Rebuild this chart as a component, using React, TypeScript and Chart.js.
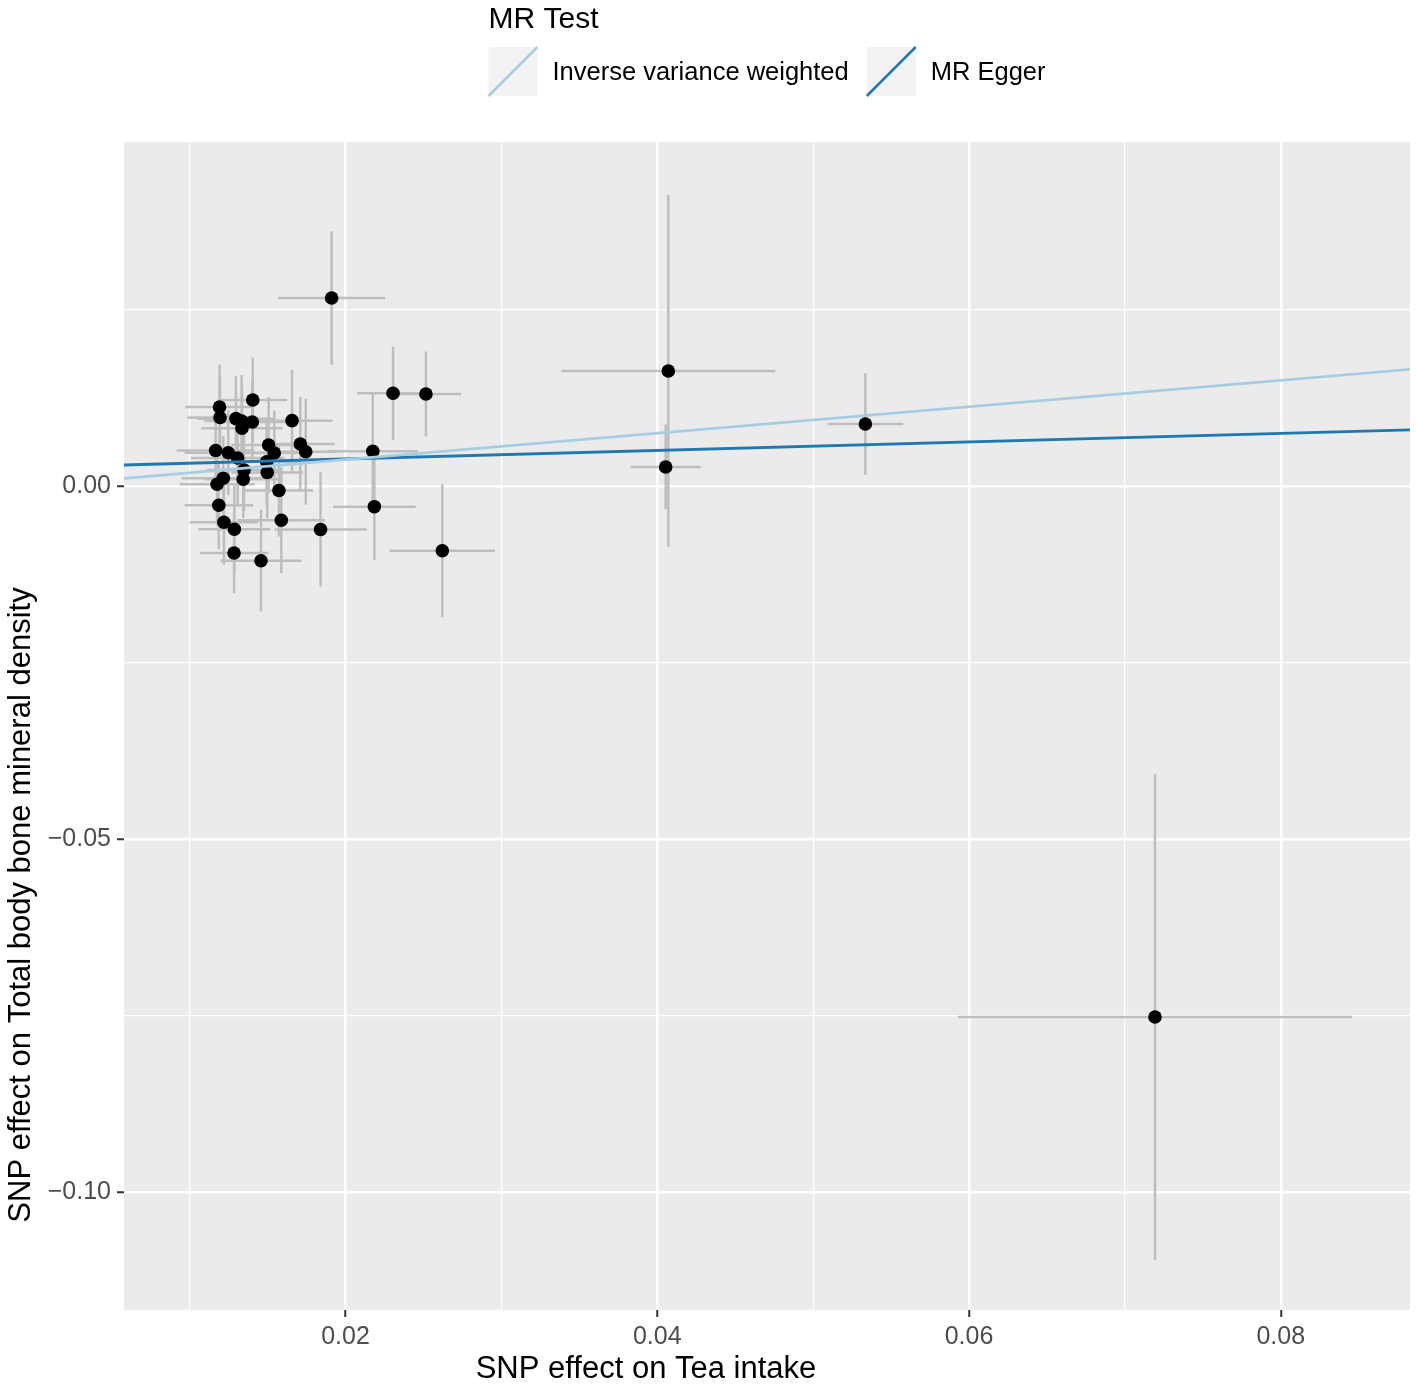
import { useEffect, useRef } from 'react';
import { Chart, registerables, type Plugin } from 'chart.js';

Chart.register(...registerables);

// SNP effects (exposure = tea intake, outcome = TBMD)
const snpX = [
  0.01192, 0.01195, 0.01405, 0.01297, 0.01334, 0.01336, 0.01402, 0.01657,
  0.01167, 0.01248, 0.01308, 0.01507, 0.01543, 0.0171, 0.01745, 0.01494,
  0.01349, 0.01344, 0.01498, 0.01216, 0.01176, 0.01573, 0.01187, 0.01588,
  0.0122, 0.01287, 0.01285, 0.01458,
  0.01911, 0.02305, 0.02516, 0.02175, 0.02185, 0.02621, 0.0184,
  0.04071, 0.04054, 0.05335, 0.07193,
];
const snpY = [
  0.01119, 0.0097, 0.01218, 0.00953, 0.0092, 0.00817, 0.00906, 0.00925,
  0.00503, 0.00471, 0.00396, 0.0058, 0.00467, 0.00595, 0.00484, 0.00344,
  0.00227, 0.00095, 0.00191, 0.00109, 0.00024, -0.00064, -0.00273, -0.00486,
  -0.00514, -0.00613, -0.00949, -0.01058,
  0.02662, 0.01312, 0.01303, 0.00491, -0.00293, -0.00916, -0.00616,
  0.01628, 0.00269, 0.00878, -0.07518,
];
const snpSeX = [
  0.0022, 0.0021, 0.0022, 0.0025, 0.0024, 0.0026, 0.0023, 0.0026,
  0.0025, 0.0028, 0.003, 0.0024, 0.0022, 0.0022, 0.002, 0.0022,
  0.0024, 0.0025, 0.0023, 0.0027, 0.0024, 0.0022, 0.0022, 0.0028,
  0.0022, 0.0023, 0.0022, 0.0026,
  0.00343, 0.00231, 0.00225, 0.0029, 0.00265, 0.00338, 0.00296,
  0.00686, 0.00225, 0.00243, 0.01264,
];
const snpSeY = [
  0.006, 0.0057, 0.006, 0.006, 0.0065, 0.0062, 0.0058, 0.0072,
  0.0055, 0.006, 0.0065, 0.0068, 0.006, 0.0067, 0.0075, 0.0062,
  0.0058, 0.0055, 0.0065, 0.006, 0.0058, 0.0065, 0.0062, 0.0075,
  0.006, 0.0062, 0.0057, 0.0072,
  0.00944, 0.00661, 0.00602, 0.0082, 0.0076, 0.00942, 0.0081,
  0.0249, 0.006, 0.00723, 0.0344,
];

// MR estimates (lines through the panel)
const ivwSlope = 0.187;
const eggerSlope = 0.0602;
const eggerIntercept = 0.00262;

const xMin = 0.00579;
const xMax = 0.08829;
const yMin = -0.11666;
const yMax = 0.0487;

const FONT = '"Liberation Sans", Arial, Helvetica, sans-serif';
const IVW_COLOR = '#A6CEE3';
const EGGER_COLOR = '#1F78B4';

const fmt = (v: number) => {
  const s = (Math.abs(v) < 1e-9 ? 0 : v).toFixed(2);
  return s.replace('-', '\u2212');
};
const majorX = (v: number) => Math.round(v * 100) % 2 === 0;
const majorY = (v: number) => Math.round(v * 1000) % 50 === 0;

const ggPlugin: Plugin<'scatter'> = {
  id: 'ggStyle',
  beforeDraw(chart) {
    const { ctx, chartArea: a } = chart;
    ctx.save();
    ctx.fillStyle = '#EBEBEB';
    ctx.fillRect(a.left, a.top, a.right - a.left, a.bottom - a.top);
    ctx.restore();
  },
  beforeDatasetsDraw(chart) {
    const { ctx, chartArea: a, scales } = chart;
    const sx = scales.x;
    const sy = scales.y;
    ctx.save();
    ctx.beginPath();
    ctx.rect(a.left, a.top, a.right - a.left, a.bottom - a.top);
    ctx.clip();
    ctx.strokeStyle = '#BEBEBE';
    ctx.lineWidth = 2.5;
    snpX.forEach((x, i) => {
      const y = snpY[i];
      const px = sx.getPixelForValue(x);
      const py = sy.getPixelForValue(y);
      ctx.beginPath();
      ctx.moveTo(px, sy.getPixelForValue(y - snpSeY[i]));
      ctx.lineTo(px, sy.getPixelForValue(y + snpSeY[i]));
      ctx.moveTo(sx.getPixelForValue(x - snpSeX[i]), py);
      ctx.lineTo(sx.getPixelForValue(x + snpSeX[i]), py);
      ctx.stroke();
    });
    ctx.restore();
  },
  afterDraw(chart) {
    const { ctx, chartArea: a } = chart;
    ctx.save();
    // axis titles
    ctx.fillStyle = '#000';
    ctx.font = `31px ${FONT}`;
    ctx.textAlign = 'center';
    ctx.textBaseline = 'middle';
    ctx.fillText('SNP effect on Tea intake', a.left + 522, chart.height - 20);
    ctx.save();
    ctx.translate(21, a.top + 763);
    ctx.rotate(-Math.PI / 2);
    ctx.fillText('SNP effect on Total body bone mineral density', 0, 0);
    ctx.restore();

    // legend
    const items = chart.data.datasets
      .filter((d) => d.type === 'line')
      .map((d) => ({ label: String(d.label), color: String(d.borderColor) }));
    const key = 49;
    const textGap = 15;
    const itemGap = 18;
    ctx.font = `25.5px ${FONT}`;
    const widths = items.map((it) => key + textGap + ctx.measureText(it.label).width);
    const total = widths.reduce((s, w) => s + w, 0) + itemGap * (items.length - 1);
    let x0 = (a.left + a.right) / 2 - total / 2;
    const keyTop = 47;
    ctx.font = `30px ${FONT}`;
    ctx.textAlign = 'left';
    ctx.textBaseline = 'alphabetic';
    ctx.fillText('MR Test', x0, 28);
    ctx.font = `25.5px ${FONT}`;
    ctx.textBaseline = 'middle';
    items.forEach((it, i) => {
      ctx.fillStyle = '#F2F2F2';
      ctx.fillRect(x0, keyTop, key, key);
      ctx.strokeStyle = it.color;
      ctx.lineWidth = 2.5;
      ctx.beginPath();
      ctx.moveTo(x0, keyTop + key);
      ctx.lineTo(x0 + key, keyTop);
      ctx.stroke();
      ctx.fillStyle = '#000';
      ctx.fillText(it.label, x0 + key + textGap, keyTop + key / 2 + 1);
      x0 += widths[i] + itemGap;
    });
    ctx.restore();
  },
};

export default function App() {
  const canvasRef = useRef<HTMLCanvasElement>(null);

  useEffect(() => {
    document.body.style.margin = '0';
    if (canvasRef.current === null) return undefined;
    const points = snpX.map((x, i) => ({ x, y: snpY[i] }));
    const chart = new Chart(canvasRef.current, {
      type: 'scatter',
      data: {
        datasets: [
          {
            type: 'line',
            label: 'Inverse variance weighted',
            data: [
              { x: xMin, y: ivwSlope * xMin },
              { x: xMax, y: ivwSlope * xMax },
            ],
            borderColor: IVW_COLOR,
            borderWidth: 2.8,
            pointRadius: 0,
            fill: false,
            order: 0,
          },
          {
            type: 'line',
            label: 'MR Egger',
            data: [
              { x: xMin, y: eggerIntercept + eggerSlope * xMin },
              { x: xMax, y: eggerIntercept + eggerSlope * xMax },
            ],
            borderColor: EGGER_COLOR,
            borderWidth: 2.8,
            pointRadius: 0,
            fill: false,
            order: 0,
          },
          {
            type: 'scatter',
            label: 'SNPs',
            data: points,
            pointRadius: 6.8,
            pointBackgroundColor: '#000',
            pointBorderWidth: 0,
            order: 1,
          },
        ],
      },
      options: {
        responsive: false,
        animation: false,
        events: [],
        layout: { padding: { top: 142, right: 7, left: 0, bottom: 0 } },
        plugins: { legend: { display: false }, tooltip: { enabled: false } },
        scales: {
          x: {
            type: 'linear',
            min: xMin,
            max: xMax,
            afterFit: (s) => { s.height = 79; },
            border: { display: false },
            grid: {
              color: '#FFFFFF',
              lineWidth: (c) => (majorX(c.tick.value) ? 2.5 : 1.2),
              tickColor: (c) => (majorX(c.tick.value) ? '#333333' : 'rgba(0,0,0,0)'),
              tickLength: 7,
              tickWidth: 2,
            },
            ticks: {
              stepSize: 0.01,
              includeBounds: false,
              autoSkip: false,
              maxRotation: 0,
              padding: 5,
              color: '#4D4D4D',
              font: { family: FONT, size: 25 },
              callback: (v) => (majorX(Number(v)) ? fmt(Number(v)) : ''),
            },
          },
          y: {
            type: 'linear',
            min: yMin,
            max: yMax,
            afterFit: (s) => { s.width = 124; },
            border: { display: false },
            grid: {
              color: '#FFFFFF',
              lineWidth: (c) => (majorY(c.tick.value) ? 2.5 : 1.2),
              tickColor: (c) => (majorY(c.tick.value) ? '#333333' : 'rgba(0,0,0,0)'),
              tickLength: 7,
              tickWidth: 2,
            },
            ticks: {
              stepSize: 0.025,
              includeBounds: false,
              autoSkip: false,
              padding: 6,
              color: '#4D4D4D',
              font: { family: FONT, size: 25 },
              callback: (v) => (majorY(Number(v)) ? fmt(Number(v)) : ''),
            },
          },
        },
      },
      plugins: [ggPlugin],
    });
    return () => { chart.destroy(); };
  }, []);

  return (
    <div style={{ width: 1417, height: 1389, background: '#fff' }}>
      <canvas ref={canvasRef} width={1417} height={1389} style={{ display: 'block' }} />
    </div>
  );
}
